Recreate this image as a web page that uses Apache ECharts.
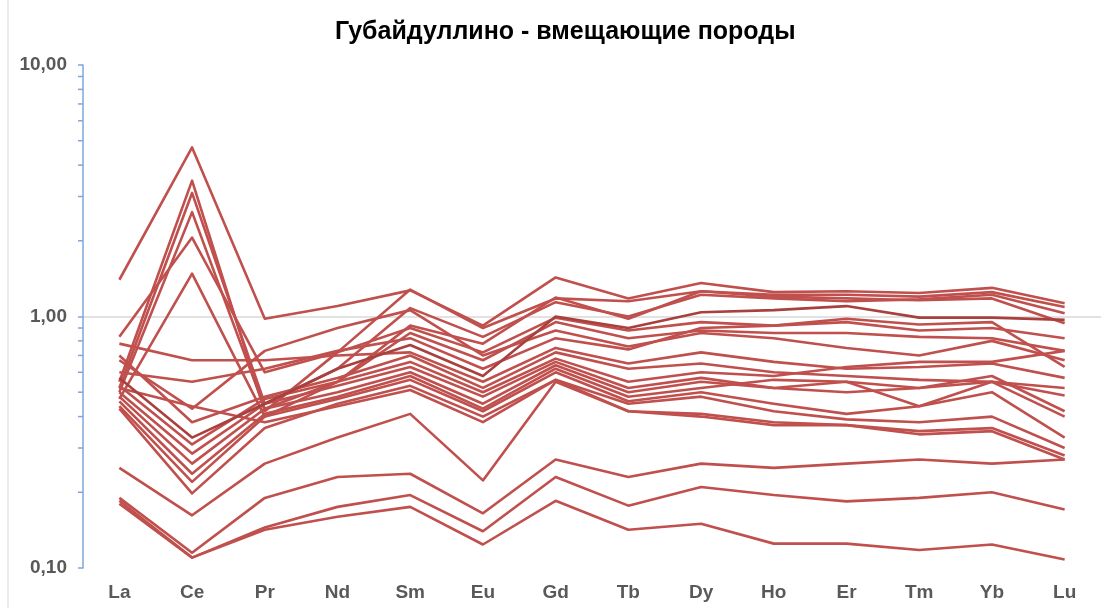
<!DOCTYPE html>
<html>
<head>
<meta charset="utf-8">
<script src="https://cdn.jsdelivr.net/npm/echarts@6/dist/echarts.min.js"></script>
<style>
html,body{margin:0;padding:0;background:#fff;}
#chart{width:1105px;height:608px;}
</style>
</head>
<body>
<div id="chart"></div>
<script>
const titleText = 'Губайдуллино - вмещающие породы';
const categories = ['La','Ce','Pr','Nd','Sm','Eu','Gd','Tb','Dy','Ho','Er','Tm','Yb','Lu'];
const yTickValues = [0.1, 1, 10];

const s01 = [1.40, 4.70, 0.98, 1.10, 1.27, 0.92, 1.43, 1.18, 1.36, 1.25, 1.26, 1.24, 1.30, 1.13];
const s02 = [0.55, 3.47, 0.42, 0.72, 1.28, 0.90, 1.18, 1.15, 1.26, 1.22, 1.22, 1.20, 1.25, 1.09];
const s03 = [0.52, 3.10, 0.45, 0.62, 1.08, 0.83, 1.14, 1.00, 1.22, 1.18, 1.15, 1.17, 1.22, 1.03];
const s04 = [0.50, 2.60, 0.43, 0.55, 0.92, 0.78, 1.19, 0.98, 1.26, 1.20, 1.18, 1.16, 1.18, 0.94];
const s05 = [0.83, 2.06, 0.60, 0.72, 0.90, 0.72, 0.99, 0.88, 0.95, 0.92, 0.95, 0.88, 0.90, 0.82];
const s06 = [0.47, 1.48, 0.40, 0.55, 0.86, 0.67, 0.95, 0.82, 0.88, 0.86, 0.86, 0.83, 0.82, 0.73];
const s07 = [0.67, 0.43, 0.73, 0.90, 1.06, 0.70, 0.88, 0.76, 0.86, 0.82, 0.75, 0.70, 0.80, 0.67];
const s08 = [0.60, 0.55, 0.62, 0.73, 0.82, 0.62, 0.82, 0.74, 0.90, 0.92, 0.98, 0.93, 0.95, 0.63];
const s09 = [0.57, 0.33, 0.45, 0.62, 0.77, 0.58, 1.00, 0.90, 1.04, 1.06, 1.10, 0.99, 0.99, 0.97];
const s10 = [0.78, 0.67, 0.67, 0.70, 0.72, 0.55, 0.75, 0.65, 0.72, 0.66, 0.62, 0.63, 0.65, 0.57];
const s11 = [0.70, 0.38, 0.48, 0.57, 0.70, 0.52, 0.72, 0.62, 0.65, 0.60, 0.58, 0.56, 0.55, 0.52];
const s12 = [0.53, 0.31, 0.47, 0.55, 0.66, 0.50, 0.68, 0.55, 0.60, 0.58, 0.63, 0.66, 0.66, 0.73];
const s13 = [0.50, 0.285, 0.45, 0.53, 0.63, 0.48, 0.66, 0.52, 0.57, 0.52, 0.55, 0.52, 0.55, 0.485];
const s14 = [0.48, 0.26, 0.43, 0.50, 0.60, 0.45, 0.64, 0.50, 0.55, 0.52, 0.50, 0.52, 0.58, 0.42];
const s15 = [0.46, 0.237, 0.41, 0.48, 0.58, 0.43, 0.62, 0.48, 0.52, 0.56, 0.55, 0.44, 0.55, 0.40];
const s16 = [0.44, 0.22, 0.40, 0.47, 0.56, 0.42, 0.60, 0.46, 0.50, 0.45, 0.41, 0.44, 0.50, 0.33];
const s17 = [0.43, 0.198, 0.36, 0.45, 0.53, 0.40, 0.56, 0.45, 0.48, 0.42, 0.39, 0.38, 0.40, 0.30];
const s18 = [0.52, 0.44, 0.38, 0.44, 0.51, 0.38, 0.56, 0.42, 0.41, 0.38, 0.37, 0.35, 0.36, 0.28];
const s19 = [0.25, 0.162, 0.26, 0.33, 0.41, 0.223, 0.55, 0.42, 0.40, 0.37, 0.37, 0.34, 0.35, 0.27];
const s20 = [0.19, 0.115, 0.19, 0.23, 0.237, 0.165, 0.27, 0.23, 0.26, 0.25, 0.26, 0.27, 0.26, 0.27];
const s21 = [0.185, 0.11, 0.145, 0.175, 0.195, 0.14, 0.23, 0.177, 0.21, 0.195, 0.184, 0.19, 0.20, 0.171];
const s22 = [0.18, 0.11, 0.142, 0.16, 0.175, 0.124, 0.185, 0.142, 0.15, 0.125, 0.125, 0.118, 0.124, 0.108];

const seriesList = [s01,s02,s03,s04,s05,s06,s07,s08,s10,s11,s12,s13,s14,s15,s16,s17,s18,s19,s20,s21,s22,s09];
const minorTickValues = [2,3,4,5,6,7,8,9,20,30,40,50,60,70,80,90].map(v => v / 10);

const chart = echarts.init(document.getElementById('chart'), null, {renderer: 'canvas'});
const FONT = '"Liberation Sans", Arial, sans-serif';
const lineColor = '#c0504d';
const axisBlue = '#7fa6dc';

chart.setOption({
  animation: false,
  backgroundColor: '#ffffff',
  title: {
    text: titleText,
    left: 330,
    top: 15,
    textStyle: {fontFamily: FONT, fontSize: 25, fontWeight: 'bold', color: '#000000'}
  },
  grid: {left: 83, right: 4, top: 65, bottom: 40, containLabel: false},
  xAxis: {
    type: 'category',
    data: categories,
    boundaryGap: true,
    axisLine: {show: false},
    axisTick: {show: false},
    axisLabel: {margin: 15, fontFamily: FONT, fontSize: 19, fontWeight: 'bold', color: '#595959'},
    splitLine: {show: false}
  },
  yAxis: {
    type: 'log',
    logBase: 10,
    min: 0.1,
    max: 10,
    axisLine: {show: true, lineStyle: {color: axisBlue, width: 1.5}},
    axisTick: {show: true, length: 5, inside: false, lineStyle: {color: axisBlue, width: 1.5}},
    axisLabel: {
      margin: 16, fontFamily: FONT, fontSize: 19, fontWeight: 'bold', color: '#595959',
      formatter: v => v.toFixed(2).replace('.', ',')
    },
    splitLine: {show: true, showMinLine: false, showMaxLine: false, lineStyle: {color: '#d9d9d9', width: 1.5}}
  },
  series: seriesList.map((d, i) => ({
    type: 'line',
    name: 'S' + (i + 1),
    data: d,
    showSymbol: false,
    symbol: 'none',
    lineStyle: {width: 2.6, color: (d === s09) ? '#a8403d' : lineColor, join: 'round'},
    itemStyle: {color: lineColor},
    z: 2
  }))
});

function drawMinorTicks() {
  const grid = chart.getModel().getComponent('grid', 0).coordinateSystem.getRect();
  const left = grid.x;
  const elements = minorTickValues.map(v => {
    const y = chart.convertToPixel({yAxisIndex: 0}, v);
    return {
      type: 'line',
      shape: {x1: left - 5, y1: y, x2: left, y2: y},
      style: {stroke: axisBlue, lineWidth: 1.5},
      silent: true
    };
  });
  elements.push({
    type: 'line',
    shape: {x1: 8, y1: 0, x2: 8, y2: 608},
    style: {stroke: '#d9d9d9', lineWidth: 1},
    silent: true
  });
  chart.setOption({graphic: elements});
}
drawMinorTicks();
</script>
</body>
</html>
